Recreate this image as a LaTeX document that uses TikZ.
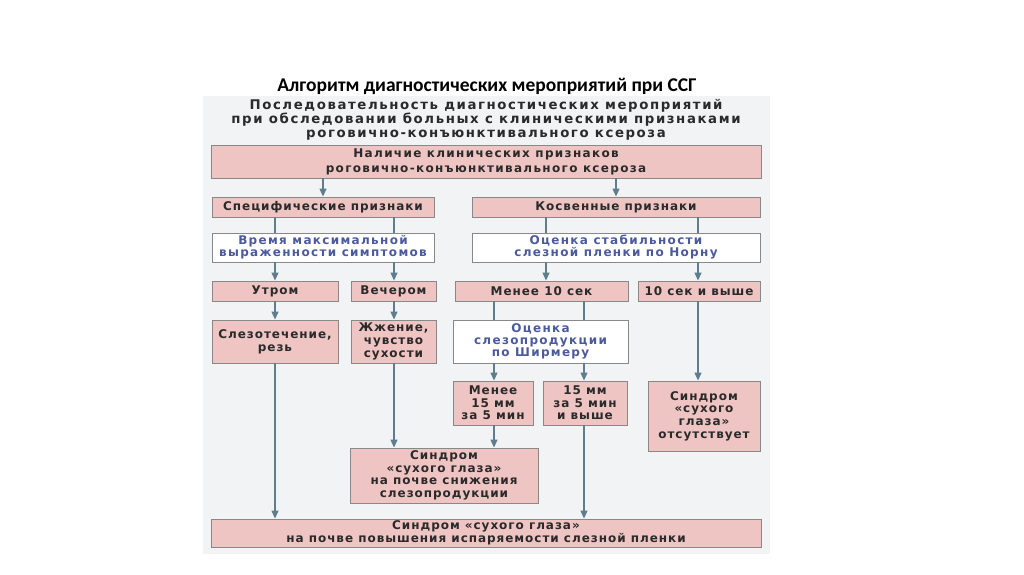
\documentclass[tikz,border=0pt]{standalone}
\usepackage{fontspec}
\usetikzlibrary{arrows.meta}
\newfontfamily\titlefont{Carlito}[UprightFont={* Bold}]
\newfontfamily\dgfont{DejaVu Sans}[UprightFont={* Bold},LetterSpace=8]
\newfontfamily\dgwfont{DejaVu Sans}[UprightFont={* Bold},LetterSpace=11]
\newfontfamily\hdfont{DejaVu Sans}[UprightFont={* Bold},LetterSpace=12]
\definecolor{pinkfill}{HTML}{EFC5C3}
\definecolor{boxline}{HTML}{888888}
\definecolor{arrowc}{HTML}{5E7E8E}
\definecolor{paneltone}{HTML}{F2F3F5}
\definecolor{bluetext}{HTML}{4B5A9E}
\definecolor{darktext}{HTML}{2A2A2A}
\begin{document}
\begin{tikzpicture}[x=1pt,y=-1pt,
  pbox/.style={draw=boxline, line width=0.9pt, fill=pinkfill, text=darktext, inner sep=0pt, align=center, font=\dgfont\fontsize{12}{12.6}\selectfont},
  wbox/.style={pbox, fill=white, text=bluetext, font=\dgwfont\fontsize{12}{12}\selectfont},
  arr/.style={draw=arrowc, line width=1.3pt, -{Triangle[width=7pt,length=8pt]}},
  ln/.style={draw=arrowc, line width=1.3pt}]
\useasboundingbox (0,0) rectangle (1024,574);
\fill[paneltone] (203,96) rectangle (770,554);
\node[font=\titlefont\fontsize{19.5}{22}\selectfont, text=black] (title) at (487,86) {Алгоритм диагностических мероприятий при ССГ};
\node[font=\hdfont\fontsize{13.3}{14.2}\selectfont, text=darktext, align=center, inner sep=0pt] (hdr) at (486,119.5) {Последовательность диагностических мероприятий\\при обследовании больных с клиническими признаками\\роговично-конъюнктивального ксероза};
\node[pbox, minimum width=550pt, minimum height=33pt, font=\dgwfont\fontsize{12}{15}\selectfont] (nal) at (486,161.5) {Наличие клинических признаков\\роговично-конъюнктивального ксероза};
\node[pbox, minimum width=222pt, minimum height=20pt] (spec) at (323,207) {Специфические признаки};
\node[pbox, minimum width=288pt, minimum height=20pt] (kosv) at (616,207) {Косвенные признаки};
\node[wbox, minimum width=222pt, minimum height=29pt] (vrem) at (323,247.5) {Время максимальной\\выраженности симптомов};
\node[wbox, minimum width=288pt, minimum height=29pt] (norn) at (616,247.5) {Оценка стабильности\\слезной пленки по Норну};
\node[pbox, minimum width=126pt, minimum height=20pt] (utrom) at (275,291) {Утром};
\node[pbox, minimum width=85pt, minimum height=20pt] (vecher) at (393.5,291) {Вечером};
\node[pbox, minimum width=173pt, minimum height=20pt] (men10) at (541.5,291) {Менее 10 сек};
\node[pbox, minimum width=122pt, minimum height=20pt] (s10) at (699,291) {10 сек и выше};
\node[pbox, minimum width=126pt, minimum height=43pt] (slez) at (275,341.5) {Слезотечение,\\резь};
\node[pbox, minimum width=85pt, minimum height=43pt] (zhzh) at (393.5,341.5) {Жжение,\\чувство\\сухости};
\node[wbox, minimum width=175pt, minimum height=43pt] (shir) at (540.5,341.5) {Оценка\\слезопродукции\\по Ширмеру};
\node[pbox, minimum width=80pt, minimum height=44pt] (m15) at (493,403) {Менее\\15 мм\\за 5 мин};
\node[pbox, minimum width=84pt, minimum height=44pt] (p15) at (585,403) {15 мм\\за 5 мин\\и выше};
\node[pbox, minimum width=112pt, minimum height=70pt] (otsut) at (704,416) {Синдром\\«сухого\\глаза»\\отсутствует};
\node[pbox, minimum width=188pt, minimum height=55pt] (snizh) at (444,475.5) {Синдром\\«сухого глаза»\\на почве снижения\\слезопродукции};
\node[pbox, minimum width=550pt, minimum height=28pt] (final) at (486,533) {Синдром «сухого глаза»\\на почве повышения испаряемости слезной пленки};
\coordinate (cA) at (275,0);
\coordinate (cB) at (394,0);
\coordinate (cC) at (546,0);
\coordinate (cD) at (698,0);
\coordinate (cE) at (494,0);
\coordinate (cF) at (584,0);
\draw[arr] (nal.south -| spec) -- (spec.north);
\draw[arr] (nal.south -| kosv) -- (kosv.north);
\draw[ln] (spec.south -| cA) -- (vrem.north -| cA);
\draw[ln] (spec.south -| cB) -- (vrem.north -| cB);
\draw[ln] (kosv.south -| cC) -- (norn.north -| cC);
\draw[ln] (kosv.south -| cD) -- (norn.north -| cD);
\draw[arr] (vrem.south -| cA) -- (utrom.north -| cA);
\draw[arr] (vrem.south -| cB) -- (vecher.north -| cB);
\draw[arr] (norn.south -| cC) -- (men10.north -| cC);
\draw[arr] (norn.south -| cD) -- (s10.north -| cD);
\draw[arr] (utrom.south -| cA) -- (slez.north -| cA);
\draw[arr] (vecher.south -| cB) -- (zhzh.north -| cB);
\draw[ln] (men10.south -| cE) -- (shir.north -| cE);
\draw[ln] (men10.south -| cF) -- (shir.north -| cF);
\draw[arr] (shir.south -| cE) -- (m15.north -| cE);
\draw[arr] (shir.south -| cF) -- (p15.north -| cF);
\draw[arr] (s10.south -| cD) -- (otsut.north -| cD);
\draw[arr] (slez.south -| cA) -- (final.north -| cA);
\draw[arr] (zhzh.south -| cB) -- (snizh.north -| cB);
\draw[arr] (m15.south -| cE) -- (snizh.north -| cE);
\draw[arr] (p15.south -| cF) -- (final.north -| cF);
\end{tikzpicture}
\end{document}
